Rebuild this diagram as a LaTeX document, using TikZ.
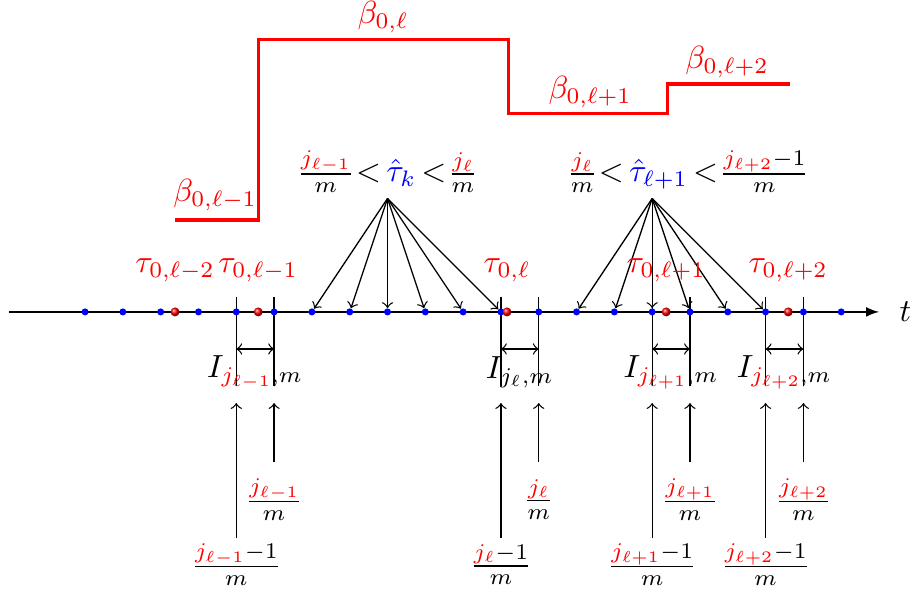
\documentclass[tikz,border=0pt]{standalone}
\usepackage{amsmath}
\newcommand{\rj}[1]{\textcolor{red}{j_{#1}}}
\newcommand{\lt}{\mkern3mu{<}\mkern3mu}
\begin{document}
\begin{tikzpicture}[x=0.415cm,y=0.415cm]

	\useasboundingbox (-2.25,-7.46) rectangle (21.82,8.25);

	% Eix del temps
	\coordinate (O) at (-2,0);
	\coordinate (E) at (21,0);
	\draw[-latex] (O) -- (E);
	\node (t) at (21.7,0) {$t$};

	\foreach \i in {0,...,20}
		\coordinate (d\i) at (\i,0);

	% Intervals
	\foreach \a/\b in {4/5,11/12,15/16,18/19}{
		\coordinate (ta\a) at (\a,0.4);
		\coordinate (ba\a) at (\a,-1.95);
		\coordinate (tb\a) at (\b,0.4);
		\coordinate (bb\a) at (\b,-1.95);
		\draw (ta\a) -- (ba\a);
		\draw (tb\a) -- (bb\a);
		\coordinate (p\a) at (\a,-0.98);
		\coordinate (q\a) at (\b,-0.98);
		\draw[<->] (p\a) -- (q\a);
	}

	\node (I1) at (4.5,-1.6) {$I_{\rj{\ell-1},m}$};
	\node (I2) at (11.5,-1.6) {$I_{j_\ell,m}$};
	\node (I3) at (15.5,-1.6) {$I_{\rj{\ell+1},m}$};
	\node (I4) at (18.5,-1.6) {$I_{\rj{\ell+2},m}$};

	% Fletxes cap a les fites
	\foreach \a/\b in {4/5,11/12,15/16,18/19}{
		\coordinate (la\a) at (\a,-5.98);
		\coordinate (ua\a) at (\a,-2.41);
		\coordinate (lb\a) at (\b,-3.97);
		\coordinate (ub\a) at (\b,-2.41);
		\draw[->] (la\a) -- (ua\a);
		\draw[->] (lb\a) -- (ub\a);
	}

	\node (f1) at (4,-6.69) {$\frac{\rj{\ell-1}-1}{m}$};
	\node (g1) at (5,-4.97) {$\frac{\rj{\ell-1}}{m}$};
	\node (f2) at (11,-6.69) {$\frac{\rj{\ell}-1}{m}$};
	\node (g2) at (12,-4.97) {$\frac{\rj{\ell}}{m}$};
	\node (f3) at (15,-6.69) {$\frac{\rj{\ell+1}-1}{m}$};
	\node (g3) at (16,-4.97) {$\frac{\rj{\ell+1}}{m}$};
	\node (f4) at (18,-6.69) {$\frac{\rj{\ell+2}-1}{m}$};
	\node (g4) at (19,-4.97) {$\frac{\rj{\ell+2}}{m}$};

	% Ventalls
	\coordinate (fa) at (8,3);
	\coordinate (fb) at (15,3);
	\foreach \i in {6,...,11}
		\draw[->,shorten >=1.2pt] (fa) -- (d\i);
	\foreach \i in {13,...,18}
		\draw[->,shorten >=1.2pt] (fb) -- (d\i);

	\node (ka) at (8,3.7) {$\nulldelimiterspace=0pt \frac{\rj{\ell-1}}{m}\lt\textcolor{blue}{\hat{\tau}_k}\lt\frac{\rj{\ell}}{m}$};
	\node (kb) at (15.95,3.7) {$\nulldelimiterspace=0pt \frac{\rj{\ell}}{m}\lt\textcolor{blue}{\hat{\tau}_{\ell+1}}\lt\frac{\rj{\ell+2}-1}{m}$};

	% Punts
	\foreach \i in {0,...,20}
		\fill[blue] (d\i) circle (1.1pt);

	\coordinate (T1) at (2.38,0);
	\coordinate (T2) at (4.58,0);
	\coordinate (T3) at (11.16,0);
	\coordinate (T4) at (15.37,0);
	\coordinate (T5) at (18.6,0);
	\foreach \j in {1,...,5}
		\shade[ball color=red] (T\j) circle (1.4pt);

	\node[red] (n1) at (2.38,1.1) {$\tau_{0,\ell-2}$};
	\node[red] (n2) at (4.58,1.1) {$\tau_{0,\ell-1}$};
	\node[red] (n3) at (11.16,1.1) {$\tau_{0,\ell}$};
	\node[red] (n4) at (15.37,1.1) {$\tau_{0,\ell+1}$};
	\node[red] (n5) at (18.6,1.1) {$\tau_{0,\ell+2}$};

	% Funcio esglao
	\coordinate (s1) at (2.38,2.43);
	\coordinate (s2) at (4.58,2.43);
	\coordinate (s3) at (4.58,7.2);
	\coordinate (s4) at (11.19,7.2);
	\coordinate (s5) at (11.19,5.24);
	\coordinate (s6) at (15.4,5.24);
	\coordinate (s7) at (15.4,6.03);
	\coordinate (s8) at (18.65,6.03);
	\draw[red,line width=1pt] (s1) -- (s2) -- (s3) -- (s4) -- (s5) -- (s6) -- (s7) -- (s8);

	\node[red] (b1) at (3.44,3.1) {$\beta_{0,\ell-1}$};
	\node[red] (b2) at (7.88,7.8) {$\beta_{0,\ell}$};
	\node[red] (b3) at (13.36,5.82) {$\beta_{0,\ell+1}$};
	\node[red] (b4) at (16.98,6.61) {$\beta_{0,\ell+2}$};

\end{tikzpicture}
\end{document}
